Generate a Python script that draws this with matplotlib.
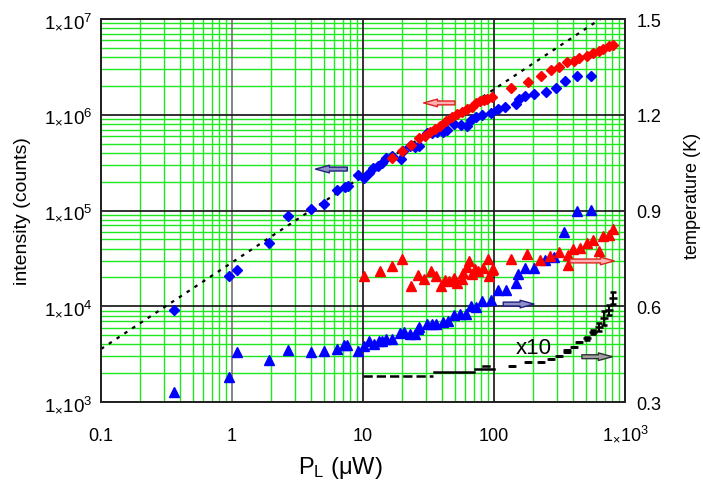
import matplotlib
matplotlib.use("Agg")
import matplotlib.pyplot as plt
from matplotlib.ticker import FixedLocator, LogLocator, NullFormatter

plt.rcParams['font.family'] = ['Liberation Sans', 'DejaVu Sans']
plt.rcParams['mathtext.fontset'] = 'custom'
plt.rcParams['mathtext.rm'] = 'Liberation Sans'
plt.rcParams['mathtext.it'] = 'Liberation Sans:italic'

# intensity, blue diamonds (left axis)
blue_int_x = [0.36, 0.94, 1.10, 1.91, 2.69, 3.99, 5.07, 6.30, 7.29, 7.72, 9.21, 10.2, 11.1,
              12.0, 13.1, 13.9, 14.9, 16.7, 19.4, 20.3, 22.9, 24.9, 26.8, 30.6, 33.5, 36.5,
              41.0, 44.0, 49.8, 55.7, 61.9, 66.7, 72.9, 81.4, 94.4, 108, 121, 146, 155, 172,
              202, 248, 296, 348, 428, 547]
blue_int_y = [9.2e3, 2.08e4, 2.39e4, 4.57e4, 8.83e4, 1.04e5, 1.17e5, 1.64e5, 1.75e5, 1.82e5,
              2.36e5, 2.18e5, 2.45e5, 2.76e5, 2.94e5, 3.13e5, 3.53e5, 3.74e5, 3.45e5, 4.21e5,
              4.75e5, 4.64e5, 4.75e5, 6.45e5, 6.45e5, 6.65e5, 6.65e5, 6.98e5, 8.0e5, 7.82e5,
              7.69e5, 8.81e5, 9.40e5, 9.94e5, 1.04e6, 1.15e6, 1.21e6, 1.29e6, 1.46e6, 1.58e6,
              1.65e6, 1.74e6, 1.89e6, 2.23e6, 2.52e6, 2.56e6]

# intensity, red diamonds (left axis)
red_int_x = [16.7, 19.7, 23.1, 26.9, 29.7, 32.5, 35.5, 38.7, 43.0, 47.5, 51.9, 56.7, 61.9,
             67.6, 72.5, 78.2, 83.9, 88.9, 96.0, 134, 181, 227, 271, 313, 363, 408, 446,
             510, 573, 634, 683, 759, 814]
red_int_y = [3.53e5, 4.21e5, 4.87e5, 5.68e5, 6.04e5, 6.56e5, 7.1e5, 7.69e5, 8.67e5, 9.40e5,
             1.02e6, 1.06e6, 1.15e6, 1.21e6, 1.33e6, 1.38e6, 1.44e6, 1.46e6, 1.52e6, 1.89e6,
             2.21e6, 2.56e6, 2.93e6, 3.13e6, 3.53e6, 3.67e6, 3.89e6, 4.14e6, 4.42e6, 4.67e6,
             4.86e6, 5.19e6, 5.39e6]

# linear fit (dotted)
fit_x = [0.1, 1000]
fit_y = [3.58e3, 1.48e7]

# temperature, blue triangles (right axis)
blue_T_x = [0.36, 0.94, 1.10, 1.91, 2.69, 3.99, 5.07, 6.30, 7.16, 7.6, 9.12, 10.2, 11.2, 12.1,
            13.2, 13.9, 15.0, 16.6, 19.2, 20.7, 22.9, 24.9, 26.4, 26.9, 30.6, 33.5, 36.1,
            41.0, 44.6, 49.8, 55.0, 61.3, 66.7, 72.5, 81.4, 94.4, 107, 123, 146, 153, 172,
            202, 245, 289, 344, 428, 547]
blue_T_y = [0.330, 0.377, 0.456, 0.433, 0.463, 0.456, 0.459, 0.466, 0.479, 0.479, 0.459, 0.475,
            0.490, 0.481, 0.491, 0.492, 0.497, 0.497, 0.515, 0.520, 0.513, 0.513, 0.529, 0.536,
            0.544, 0.544, 0.544, 0.552, 0.555, 0.573, 0.576, 0.576, 0.602, 0.599, 0.617, 0.621,
            0.652, 0.651, 0.673, 0.701, 0.720, 0.720, 0.746, 0.755, 0.834, 0.899, 0.902]

# temperature, red triangles (right axis)
red_T_x = [10.2, 13.5, 16.6, 20.0, 23.1, 26.4, 29.4, 33.2, 35.9, 39.2, 42.3, 45.6, 49.2, 52.5,
           57.3, 58.3, 61.9, 64.8, 67.6, 71.6, 75.9, 82.8, 89.5, 91.3, 96.0, 98.2, 135, 180,
           224, 267, 315, 366, 366, 403, 450, 515, 573, 634, 683, 759, 805]
red_T_y = [0.694, 0.710, 0.725, 0.748, 0.662, 0.699, 0.685, 0.709, 0.696, 0.662, 0.683, 0.680,
           0.688, 0.673, 0.685, 0.704, 0.722, 0.743, 0.701, 0.717, 0.711, 0.720, 0.748, 0.694,
           0.714, 0.717, 0.748, 0.763, 0.746, 0.756, 0.769, 0.761, 0.729, 0.779, 0.782, 0.797,
           0.808, 0.773, 0.821, 0.823, 0.842]

# temperature rise x10 (black), low power bins
bin_x = [[10, 34], [35, 70], [71, 100], [82, 92]]
bin_T = [0.382, 0.395, 0.403, 0.414]
bin_style = ['--', '-', '-', '-']

# temperature rise x10 (black), single points with error
rise_x = [136, 181, 228, 272, 315, 363, 363, 410, 448, 510, 573, 634, 692, 755, 814]
rise_T = [0.414, 0.424, 0.424, 0.435, 0.443, 0.458, 0.464, 0.473, 0.487, 0.500, 0.520,
          0.534, 0.562, 0.589, 0.625]
rise_err = [0, 0, 0, 0, 0, 0, 0, 0, 0, 0.005, 0.007, 0.013, 0.022, 0.016, 0.019]

x_major = [0.1, 1, 10, 100, 1000]
x_labels = ['0.1', '1', '10', '100', r'1$_{\times}$10$^{3}$']
y_major = [1e3, 1e4, 1e5, 1e6, 1e7]
y_labels = [r'1$_{\times}$10$^{%d}$' % k for k in range(3, 8)]
t_major = [0.3, 0.6, 0.9, 1.2, 1.5]
t_labels = ['0.3', '0.6', '0.9', '1.2', '1.5']

fig = plt.figure(figsize=(7.03, 4.85), dpi=100)
ax = fig.add_axes([0.1437, 0.169, 0.7454, 0.7897])
ax2 = ax.twinx()

ax.set_xscale('log')
ax.set_yscale('log')
ax.set_xlim(0.1, 1000)
ax.set_ylim(1e3, 1e7)
ax2.set_ylim(0.3, 1.5)

ax.xaxis.set_minor_locator(LogLocator(base=10, subs=range(2, 10)))
ax.yaxis.set_minor_locator(LogLocator(base=10, subs=range(2, 10)))
ax.xaxis.set_minor_formatter(NullFormatter())
ax.yaxis.set_minor_formatter(NullFormatter())
ax.grid(which='minor', color='#1ee81e', lw=1.0)
ax.set_axisbelow(True)

# major grid drawn on top of the green minor grid
for v in x_major:
    ax.axvline(v, color='#707070' if v == 1 else '#111111', lw=1.2, zorder=0.8)
for v in y_major:
    ax.axhline(v, color='#111111', lw=1.2, zorder=0.8)

ax.xaxis.set_major_locator(FixedLocator(x_major))
ax.set_xticklabels(x_labels)
ax.yaxis.set_major_locator(FixedLocator(y_major))
ax.set_yticklabels(y_labels)
ax2.yaxis.set_major_locator(FixedLocator(t_major))
ax2.set_yticklabels(t_labels)

ax.tick_params(axis='x', which='both', length=0, pad=27, labelsize=13)
for lab in ax.get_xticklabels():
    lab.set_va('baseline')
ax.tick_params(axis='y', which='both', length=0, pad=6, labelsize=13.5)
ax2.tick_params(axis='y', which='both', length=0, pad=8, labelsize=13)

for a in (ax, ax2):
    for sp in a.spines.values():
        sp.set_linewidth(1.3)
        sp.set_color('#222222')

ax.set_xlabel(r'P$_\mathregular{L}$ ($\mathregular{\mu}$W)', fontsize=17)
ax.xaxis.set_label_coords(0.456, -0.17)
ax.xaxis.label.set_va('center')
ax.set_ylabel('intensity (counts)', fontsize=14)
ax.yaxis.set_label_coords(-0.149, 0.5)
ax.yaxis.label.set_va('center')
ax2.set_ylabel('temperature (K)', fontsize=13, rotation=90)
ax2.yaxis.set_label_coords(1.128, 0.54)
ax2.yaxis.label.set_va('center')

ax.plot(fit_x, fit_y, color='k', lw=1.6, linestyle=(0, (1.6, 2.6)), zorder=3)
ax.plot(blue_int_x, blue_int_y, 'D', color='#0000ff', ms=5.5, mec='#0000ff', zorder=4)
ax.plot(red_int_x, red_int_y, 'D', color='#ff0000', ms=5.5, mec='#ff0000', zorder=4)

ax2.plot(blue_T_x, blue_T_y, '^', color='#0000ff', ms=7, mec='#0000ff', lw=0)
ax2.plot(red_T_x, red_T_y, '^', color='#ff0000', ms=7, mec='#ff0000', lw=0)
for xs, t, ls in zip(bin_x, bin_T, bin_style):
    ax2.plot(xs, [t, t], color='k', linestyle=ls, lw=1.8)
ax2.errorbar(rise_x, rise_T, yerr=rise_err, fmt='_', color='k', ms=6, mew=1.8,
             elinewidth=1.5, capsize=2.5, capthick=1.5)
ax2.text(147, 0.472, 'x10', fontsize=16, va='center', ha='left')

# direction arrows
style = 'simple,head_length=1.0,head_width=0.55,tail_width=0.28'
ax.annotate('', xy=(27.6, 1.33e6), xytext=(52.8, 1.33e6),
            arrowprops=dict(arrowstyle=style, fc='#ffb0b0', ec='#e02020', lw=1))
ax.annotate('', xy=(4.13, 2.71e5), xytext=(7.96, 2.71e5),
            arrowprops=dict(arrowstyle=style, fc='#9090c8', ec='#202080', lw=1))
ax2.annotate('', xy=(212, 0.607), xytext=(112, 0.607),
             arrowprops=dict(arrowstyle=style, fc='#9090c8', ec='#202080', lw=1))
ax2.annotate('', xy=(869, 0.742), xytext=(361, 0.742),
             arrowprops=dict(arrowstyle=style, fc='#ffb0b0', ec='#e02020', lw=1))
ax2.annotate('', xy=(839, 0.442), xytext=(446, 0.442),
             arrowprops=dict(arrowstyle=style, fc='#a0a0a0', ec='#303030', lw=1))

fig.savefig('out.png', dpi=100)
